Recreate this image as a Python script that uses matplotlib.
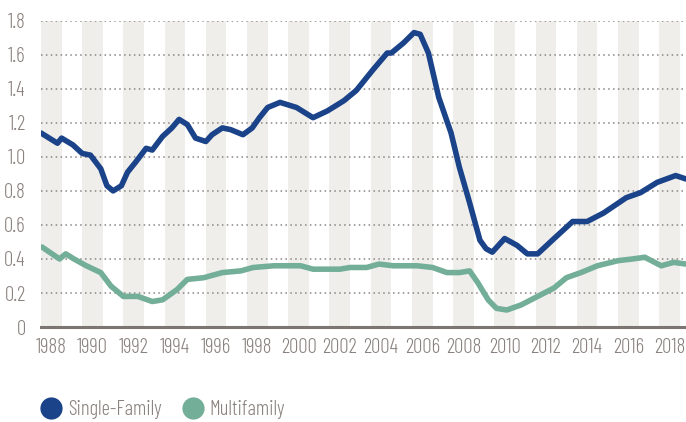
import matplotlib
matplotlib.use('Agg')
import matplotlib.pyplot as plt
from matplotlib.lines import Line2D

# Single-family series (year, value)
sf_years = [1988.0, 1988.8, 1989.0, 1989.55, 1990.0, 1990.4, 1990.9, 1991.2, 1991.5,
            1991.9, 1992.2, 1992.6, 1993.1, 1993.4, 1993.9, 1994.35, 1994.7, 1995.1,
            1995.5, 1996.0, 1996.3, 1996.8, 1997.2, 1997.8, 1998.25, 1998.6, 1999.0,
            1999.6, 2000.4, 2001.2, 2001.9, 2002.7, 2003.3, 2004.1, 2004.8, 2005.0,
            2005.6, 2006.1, 2006.4, 2006.8, 2007.3, 2007.9, 2008.3, 2008.8, 2009.3,
            2009.6, 2009.9, 2010.5, 2011.1, 2011.6, 2012.1, 2012.9, 2013.8, 2014.5,
            2015.3, 2016.4, 2017.1, 2017.9, 2018.8, 2019.3]
sf_values = [1.14, 1.08, 1.11, 1.07, 1.02, 1.01, 0.93, 0.83, 0.80,
             0.83, 0.91, 0.97, 1.05, 1.04, 1.12, 1.17, 1.22, 1.19,
             1.11, 1.09, 1.13, 1.17, 1.16, 1.13, 1.17, 1.23, 1.29,
             1.32, 1.29, 1.23, 1.27, 1.33, 1.39, 1.51, 1.61, 1.61,
             1.67, 1.73, 1.72, 1.61, 1.35, 1.14, 0.94, 0.73, 0.51,
             0.46, 0.44, 0.52, 0.48, 0.43, 0.43, 0.52, 0.62, 0.62,
             0.67, 0.76, 0.79, 0.85, 0.89, 0.87]

# Multifamily series
mf_years = [1988.05, 1988.9, 1989.2, 1989.6, 1990.2, 1990.9, 1991.4, 1992.0, 1992.7,
            1993.4, 1993.9, 1994.6, 1995.1, 1995.9, 1996.8, 1997.7, 1998.3, 1999.3,
            2000.6, 2001.2, 2002.5, 2003.0, 2003.8, 2004.4, 2005.1, 2006.25, 2007.0,
            2007.7, 2008.3, 2008.8, 2009.2, 2009.7, 2010.1, 2010.6, 2011.3, 2012.1,
            2012.9, 2013.5, 2014.2, 2015.0, 2016.0, 2016.7, 2017.3, 2018.1, 2018.7,
            2019.3]
mf_values = [0.47, 0.40, 0.43, 0.40, 0.36, 0.32, 0.24, 0.18, 0.18,
             0.15, 0.16, 0.22, 0.28, 0.29, 0.32, 0.33, 0.35, 0.36,
             0.36, 0.34, 0.34, 0.35, 0.35, 0.37, 0.36, 0.36, 0.35,
             0.32, 0.32, 0.33, 0.26, 0.16, 0.11, 0.10, 0.13, 0.18,
             0.23, 0.29, 0.32, 0.36, 0.39, 0.40, 0.41, 0.36, 0.38,
             0.37]

tick_years = list(range(1988, 2019, 2))
y_ticks = [0, 0.2, 0.4, 0.6, 0.8, 1.0, 1.2, 1.4, 1.6, 1.8]
y_labels = ['0', '0.2', '0.4', '0.6', '0.8', '1.0', '1.2', '1.4', '1.6', '1.8']

blue = '#1b4389'
teal = '#72ae98'
text_gray = '#8a827e'

plt.rcParams['font.family'] = ['Barlow Condensed', 'DejaVu Sans']
plt.rcParams['font.weight'] = 300

fig = plt.figure(figsize=(6.86, 4.22), dpi=100)
ax = fig.add_axes([41 / 686, 0.225, 1 - 41 / 686, 0.951 - 0.225])

# alternating year stripes
for yr in tick_years:
    ax.axvspan(yr, yr + 1, color='#efeeea', lw=0, zorder=0)

for yv in y_ticks[1:]:
    ax.axhline(yv, color='#8a8583', lw=1.1, ls=(0, (1, 2.2)), zorder=1)
ax.axhline(0, color='#7d7571', lw=2.2, zorder=4, clip_on=False)

ax.plot(sf_years, sf_values, color=blue, lw=4, solid_capstyle='round', zorder=3)
ax.plot(mf_years, mf_values, color=teal, lw=4, solid_capstyle='round', zorder=3)

ax.set_xlim(1988, 2019.3)
ax.set_ylim(0, 1.8)
ax.set_xticks([y + 0.5 for y in tick_years])
ax.set_xticklabels([str(y) for y in tick_years])
ax.set_yticks(y_ticks)
ax.set_yticklabels(y_labels)
ax.tick_params(length=0, labelsize=15, labelcolor=text_gray)
ax.tick_params(axis='x', pad=8)
ax.tick_params(axis='y', pad=11)
for s in ax.spines.values():
    s.set_visible(False)

handles = [Line2D([], [], marker='o', ls='', color=blue, markersize=15),
           Line2D([], [], marker='o', ls='', color=teal, markersize=15)]
fig.legend(handles, ['Single-Family', 'Multifamily'], loc='lower left',
           bbox_to_anchor=(0.029, -0.037), ncol=2, frameon=False, fontsize=15,
           labelcolor=text_gray, handletextpad=0.2, columnspacing=0.9,
           handlelength=1.2)

fig.savefig('out.png', dpi=100, facecolor='white')
